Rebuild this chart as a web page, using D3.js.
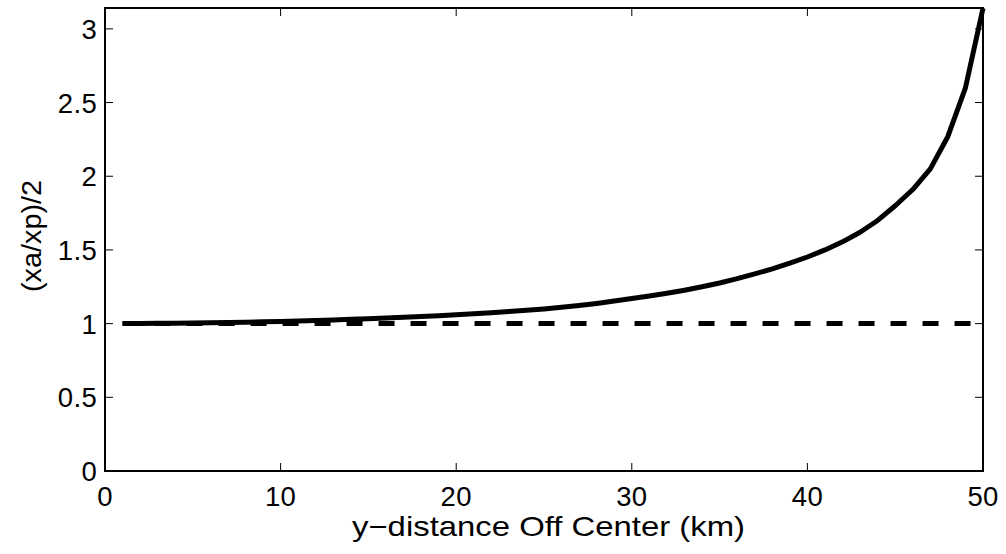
<!DOCTYPE html>
<html>
<head>
<meta charset="utf-8">
<script src="https://cdn.jsdelivr.net/npm/d3@7"></script>
<style>
html,body{margin:0;padding:0;background:#fff;}
svg{display:block;}
text{font-family:"Liberation Sans",Arial,Helvetica,sans-serif;fill:#000;}
</style>
</head>
<body>
<svg id="chart" width="1006" height="554"></svg>
<script>
// distance off center (km)
const distance = [1,2,3,4,5,6,7,8,9,10,11,12,13,14,15,16,17,18,19,20,21,22,23,24,25,26,27,28,29,30,31,32,33,34,35,36,37,38,39,40,41,42,43,44,45,46,47,48,49,50];
// (xa/xp)/2 ratio
const ratio = [1.000,1.001,1.002,1.003,1.004,1.006,1.008,1.010,1.012,1.015,1.018,1.021,1.025,1.029,1.033,1.038,1.043,1.048,1.054,1.060,1.067,1.074,1.082,1.091,1.100,1.111,1.123,1.137,1.153,1.170,1.187,1.206,1.227,1.250,1.276,1.305,1.337,1.372,1.410,1.452,1.500,1.555,1.620,1.700,1.800,1.910,2.050,2.270,2.600,3.140];
// reference line
const reference = distance.map(() => 1);
const xTicks = [0,10,20,30,40,50];
const yTicks = [0,0.5,1,1.5,2,2.5,3];
const xLabel = "y\u2212distance Off Center (km)";
const yLabel = "(xa/xp)/2";

const svg = d3.select("#chart");
const L = 105, R = 983, T = 8, B = 471;
const x = d3.scaleLinear().domain([0,50]).range([L,R]);
const y = d3.scaleLinear().domain([0,3.1416]).range([B,T]);

const line = d3.line().x((d,i)=>x(distance[i])).y(d=>y(d));

svg.append("path").datum(reference)
  .attr("d", line).attr("fill","none").attr("stroke","#000")
  .attr("stroke-width",5).attr("stroke-dasharray","16,16");

svg.append("path").datum(ratio)
  .attr("d", line).attr("fill","none").attr("stroke","#000")
  .attr("stroke-width",5).attr("stroke-linejoin","round");

// ticks (inward, mirrored)
const tk = 8;
const g = svg.append("g").attr("stroke","#000").attr("stroke-width",1);
xTicks.forEach(t=>{
  g.append("line").attr("x1",x(t)).attr("x2",x(t)).attr("y1",B).attr("y2",B-tk);
  g.append("line").attr("x1",x(t)).attr("x2",x(t)).attr("y1",T).attr("y2",T+tk);
});
yTicks.forEach(t=>{
  g.append("line").attr("x1",L).attr("x2",L+tk).attr("y1",y(t)).attr("y2",y(t));
  g.append("line").attr("x1",R).attr("x2",R-tk).attr("y1",y(t)).attr("y2",y(t));
});

// box
svg.append("rect").attr("x",L).attr("y",T).attr("width",R-L).attr("height",B-T)
  .attr("fill","none").attr("stroke","#000").attr("stroke-width",2);

// labels
const fs = 27.5;
svg.append("g").selectAll("text").data(xTicks).join("text")
  .attr("x",d=>x(d)).attr("y",B+35).attr("text-anchor","middle")
  .attr("font-size",fs).style("letter-spacing","0.3px").text(d=>d);
svg.append("g").selectAll("text").data(yTicks).join("text")
  .attr("x",L-8).attr("y",d=>y(d)+10).attr("text-anchor","end")
  .attr("font-size",fs).style("letter-spacing","0.3px").text(d=>d);

svg.append("text").attr("x",(352+745)/2).attr("y",536).attr("text-anchor","middle")
  .attr("font-size",28).attr("textLength",393).attr("lengthAdjust","spacingAndGlyphs").text(xLabel);

svg.append("text").attr("transform","translate(41,236) rotate(-90)")
  .attr("text-anchor","middle").attr("font-size",28)
  .attr("textLength",112).attr("lengthAdjust","spacingAndGlyphs").text(yLabel);
</script>
</body>
</html>
